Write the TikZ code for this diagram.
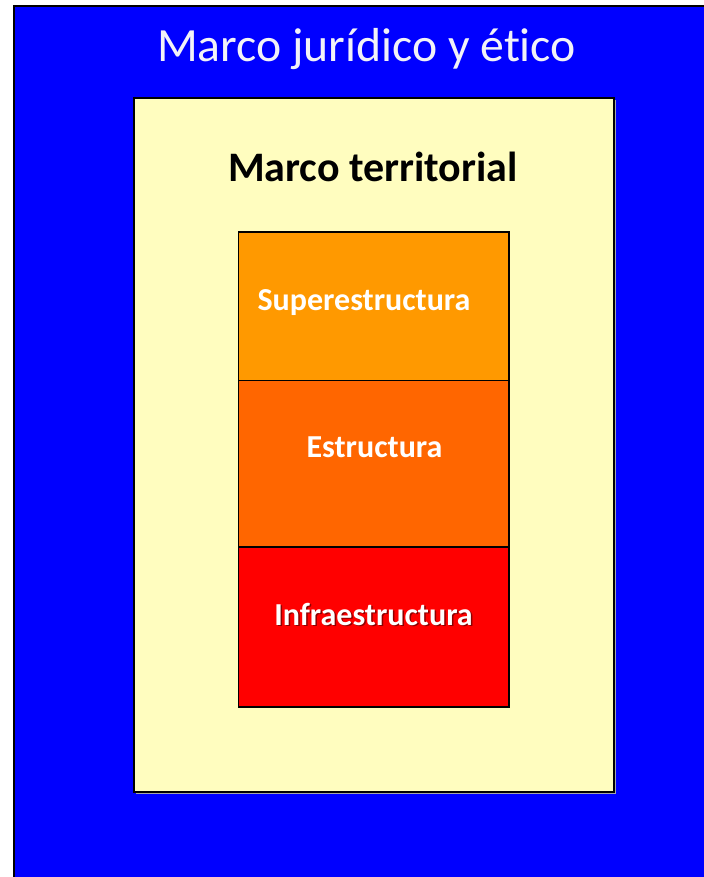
\documentclass[tikz,border=0pt]{standalone}
\usepackage{fontspec}
\setmainfont[Ligatures=NoCommon]{Carlito}
\definecolor{bgblue}{HTML}{0000FF}
\definecolor{paleyellow}{HTML}{FFFDBF}
\definecolor{superor}{HTML}{FF9900}
\definecolor{estor}{HTML}{FF6600}
\definecolor{infrared}{HTML}{FF0000}
\definecolor{titlewhite}{HTML}{F2F2F8}
\tikzset{
  layerbox/.style={draw=black, line width=1.5bp},
  layertext/.style={text=white, anchor=base, inner sep=0pt, font=\bfseries\fontsize{32bp}{38bp}\selectfont},
}
\begin{document}
\begin{tikzpicture}[x=1bp,y=-1bp]
\useasboundingbox (0,0) rectangle (704,877);
\clip (0,0) rectangle (704,877);
% outer blue frame
\draw[fill=bgblue, draw=black, line width=2.5bp] (14,6) rectangle (710,885);
\node[text=titlewhite, anchor=base, inner sep=0pt, font=\fontsize{47.7bp}{56bp}\selectfont] (title) at (366.5,61) {Marco jurídico y ético};
% territorial frame
\fill[black!35] (136,100) rectangle (616,794);
\draw[fill=paleyellow, draw=black, line width=2.5bp] (134,98) rectangle (614,792);
\node[text=black, anchor=base, inner sep=0pt, font=\bfseries\fontsize{42bp}{50bp}\selectfont] (terr) at (373,181) {Marco territorial};
% layers
\draw[layerbox, fill=superor] (238.5,232) rectangle (509,380.5);
\draw[layerbox, fill=estor] (238.5,380.5) rectangle (509,547);
\draw[layerbox, fill=infrared] (238.5,547) rectangle (509,707);
\node[layertext] (sup) at (364,310) {Superestructura};
\node[layertext] (est) at (374.5,457.5) {Estructura};
\node[layertext, text=black, opacity=0.45] (infsh) at (375,626.5) {Infraestructura};
\node[layertext] (inf) at (373.5,625) {Infraestructura};
\end{tikzpicture}
\end{document}
